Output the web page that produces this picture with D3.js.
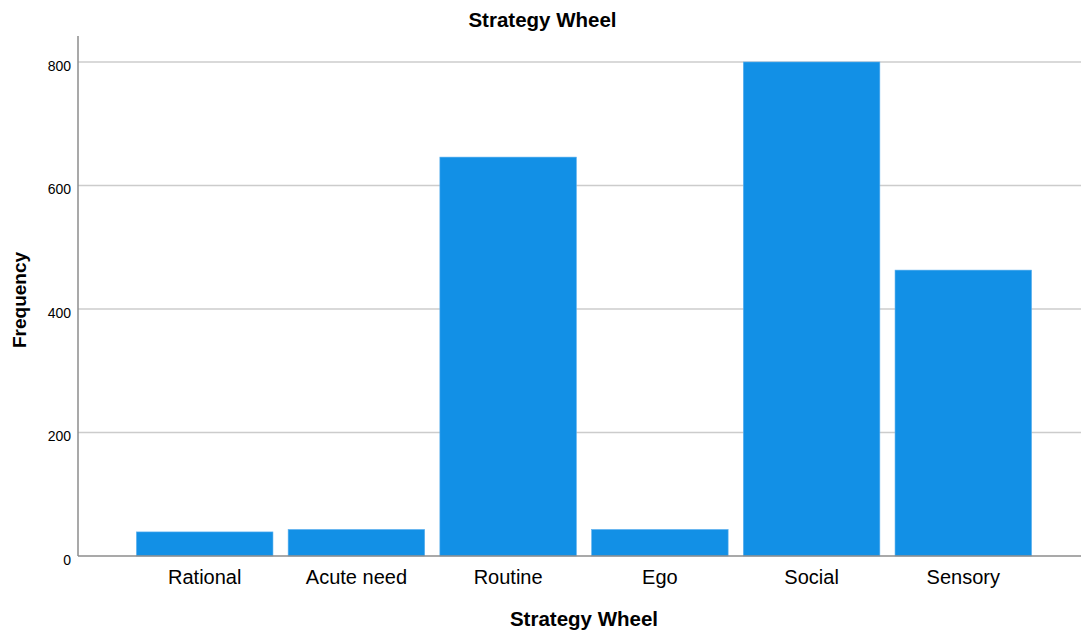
<!DOCTYPE html>
<html>
<head>
<meta charset="utf-8">
<script src="https://cdn.jsdelivr.net/npm/d3@7"></script>
<style>
  body { margin: 0; background: #fff; }
  text { font-family: "Liberation Sans", Arial, sans-serif; fill: #000; }
</style>
</head>
<body>
<div id="container"></div>
<script>
const categories = ["Rational", "Acute need", "Routine", "Ego", "Social", "Sensory"]
const frequency = [39, 43, 646, 43, 800, 463]
const yTicks = [0, 200, 400, 600, 800]

const width = 1081
const height = 633
const margin = { top: 36, right: -9, bottom: 77, left: 78 }

const svg = d3.select("#container")
    .append("svg")
    .attr("width", width)
    .attr("height", height)

const x = d3.scaleBand()
    .domain(categories)
    .range([margin.left, width - margin.right])
    .paddingInner(0.1)
    .paddingOuter(0.385)

const y = d3.scaleLinear()
    .domain([0, 800])
    .range([height - margin.bottom, 62])

// gridlines
svg.append("g")
    .attr("stroke", "#cccccc")
    .attr("stroke-width", 1.5)
    .selectAll("line")
    .data(yTicks.filter(d => d > 0))
    .join("line")
    .attr("x1", margin.left)
    .attr("x2", width)
    .attr("y1", d => y(d))
    .attr("y2", d => y(d))

// bars
svg.append("g")
    .selectAll("rect")
    .data(categories)
    .join("rect")
    .attr("x", d => x(d))
    .attr("width", x.bandwidth())
    .attr("y", (d, i) => y(frequency[i]))
    .attr("height", (d, i) => y(0) - y(frequency[i]))
    .attr("fill", "#1290e6")
    .attr("stroke", "#5fb1ee")
    .attr("stroke-width", 0.6)

// y axis
const yAxis = svg.append("g")
    .attr("transform", `translate(${margin.left},0)`)
    .call(d3.axisLeft(y).tickValues(yTicks).tickSize(0).tickPadding(7))
yAxis.select(".domain").remove()
yAxis.selectAll("text")
    .attr("dy", "0.7em")
    .attr("y", -1.5)
    .style("font-size", "14px")
    .style("font-family", "'Liberation Sans', Arial, sans-serif")
    .attr("fill", "#000")

svg.append("line")
    .attr("x1", margin.left).attr("x2", margin.left)
    .attr("y1", 36).attr("y2", y(0))
    .attr("stroke", "#8c8c8c")
    .attr("stroke-width", 1.5)

// x axis
const xAxis = svg.append("g")
    .attr("transform", `translate(0,${y(0)})`)
    .call(d3.axisBottom(x).tickSize(0).tickPadding(14))
xAxis.select(".domain").remove()
xAxis.selectAll("text")
    .style("font-size", "20px")
    .style("font-family", "'Liberation Sans', Arial, sans-serif")
    .attr("fill", "#333")

svg.append("line")
    .attr("x1", margin.left).attr("x2", width)
    .attr("y1", y(0)).attr("y2", y(0))
    .attr("stroke", "#8c8c8c")
    .attr("stroke-width", 1.5)

// titles
svg.append("text")
    .attr("x", 542.5)
    .attr("y", 26.5)
    .attr("text-anchor", "middle")
    .style("font-size", "20.5px")
    .style("font-weight", "bold")
    .text("Strategy Wheel")

svg.append("text")
    .attr("x", 584)
    .attr("y", 626)
    .attr("text-anchor", "middle")
    .style("font-size", "20.5px")
    .style("font-weight", "bold")
    .text("Strategy Wheel")

svg.append("text")
    .attr("transform", "translate(26,300) rotate(-90)")
    .attr("text-anchor", "middle")
    .style("font-size", "19px")
    .style("font-weight", "bold")
    .text("Frequency")
</script>
</body>
</html>
